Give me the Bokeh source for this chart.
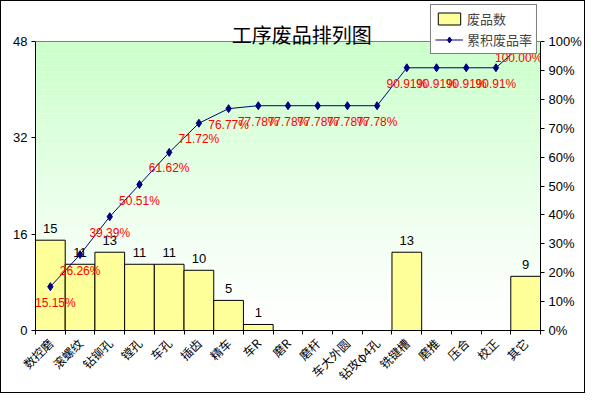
import numpy as np
from bokeh.plotting import figure
from bokeh.models import (Range1d, LinearAxis, FixedTicker, NumeralTickFormatter,
                          BoxAnnotation, Legend, LegendItem, Label, ColumnDataSource, Span)
from bokeh.core.properties import value
from bokeh.embed import file_html
from bokeh.resources import INLINE
import math

# ---- data ----
categories = ["数控磨", "滚螺纹", "钻铆孔", "镗孔", "车孔", "插齿", "精车", "车R", "磨R",
              "磨杆", "车大外圆", "钻攻φ4孔", "铣键槽", "磨推", "压合", "校正", "其它"]
counts = [15, 11, 13, 11, 11, 10, 5, 1, 0, 0, 0, 0, 13, 0, 0, 0, 9]
cum_pct = [15.15, 26.26, 39.39, 50.51, 61.62, 71.72, 76.77, 77.78, 77.78, 77.78,
           77.78, 77.78, 90.91, 90.91, 90.91, 90.91, 100.00]
left_ticks = [0, 16, 32, 48]
right_ticks = [0, 0.1, 0.2, 0.3, 0.4, 0.5, 0.6, 0.7, 0.8, 0.9, 1.0]
title_text = "工序废品排列图"
left_max = 48
right_max = 1.0

n = len(categories)
xs = list(np.arange(n) + 0.5)
bounds = list(np.arange(n + 1))

CJK = "Noto Sans CJK SC"
NUM = "Liberation Sans"

# layout: plot area 505 x 289 px, with 40 px of frame above it for title / legend
AREA_H = 289
TOP_PAD = 40
FRAME_H = AREA_H + TOP_PAD
ext = FRAME_H / AREA_H

p = figure(frame_width=505, frame_height=FRAME_H, output_backend="svg", toolbar_location=None,
           x_range=Range1d(0, n), y_range=Range1d(0, left_max * ext),
           min_border_left=34, min_border_right=44, min_border_top=0, min_border_bottom=56)
p.extra_y_ranges = {"pct": Range1d(0, right_max * ext)}
p.grid.visible = False
p.background_fill_color = "white"
p.border_fill_color = "white"
p.outline_line_color = None
p.styles = {"border": "1px solid black"}

# gradient background (light green at top fading to white)
steps = 48
for i in range(steps):
    t = (i + 0.5) / steps
    w = min(1.0, t * 1.05) ** 1.2
    r = int(round(255 - (255 - 0xCC) * w))
    col = "#%02x%02x%02x" % (r, 255, r)
    p.add_layout(BoxAnnotation(bottom=left_max * i / steps, top=left_max * (i + 1) / steps,
                               fill_color=col, fill_alpha=1.0, line_color=None,
                               level="underlay"))
p.add_layout(Span(location=left_max, dimension="width", line_color="#808080", line_width=1))

# keep the first / last percentage labels inside the plot edges
lab_dx = [0] * n
lab_dx[0] = 5
lab_dx[-1] = -7

src = ColumnDataSource(dict(x=xs, cat=categories, cnt=counts, cum=[c / 100 for c in cum_pct],
                            lab=["%.2f%%" % c for c in cum_pct], dx=lab_dx))

bars = p.vbar(x="x", top="cnt", width=1.0, source=src, fill_color="#FFFF99",
              line_color="black", line_width=1)

nz = [i for i, c in enumerate(counts) if c > 0]
p.text(x=[xs[i] for i in nz], y=[counts[i] for i in nz], text=[str(counts[i]) for i in nz],
       text_align="center", text_baseline="bottom", y_offset=-7,
       text_font=value(NUM), text_font_size="13px", text_color="black")

ln = p.line(x="x", y="cum", source=src, y_range_name="pct", line_color="#000080", line_width=1)
mk = p.scatter(x="x", y="cum", source=src, y_range_name="pct", marker="diamond", size=8,
               fill_color="#000080", line_color="#000080")
p.text(x="x", y="cum", text="lab", source=src, y_range_name="pct",
       text_align="center", text_baseline="top", x_offset="dx", y_offset=9,
       text_font=value(NUM), text_font_size="12px", text_color="#FF0000")

# axes
xa = p.xaxis[0]
xa.ticker = FixedTicker(ticks=xs, minor_ticks=bounds)
xa.major_label_overrides = {float(x): c for x, c in zip(xs, categories)}
xa.major_label_orientation = math.pi / 4
xa.major_tick_line_color = None
xa.minor_tick_in = 0
xa.minor_tick_out = 4
xa.minor_tick_line_color = "black"
xa.axis_line_color = "black"
xa.major_label_text_font = CJK
xa.major_label_text_font_size = "12px"
xa.major_label_text_color = "black"
xa.major_label_standoff = 4

ya = p.yaxis[0]
ya.ticker = FixedTicker(ticks=left_ticks)
ya.bounds = (0, left_max)
ya.minor_tick_line_color = None
ya.major_tick_in = 0
ya.major_tick_out = 4
ya.axis_line_color = "black"
ya.major_label_text_font = NUM
ya.major_label_text_font_size = "13px"
ya.major_label_text_color = "black"
ya.major_label_standoff = 4

ra = LinearAxis(y_range_name="pct", ticker=FixedTicker(ticks=right_ticks),
                formatter=NumeralTickFormatter(format="0%"), bounds=(0, right_max))
ra.minor_tick_line_color = None
ra.major_tick_in = 0
ra.major_tick_out = 4
ra.axis_line_color = "black"
ra.major_label_text_font = NUM
ra.major_label_text_font_size = "13px"
ra.major_label_text_color = "black"
ra.major_label_standoff = 4
p.add_layout(ra, "right")

# title
p.add_layout(Label(x=8.96, y=left_max, text=title_text, text_align="center",
                   text_baseline="middle", y_offset=7, text_font=CJK,
                   text_font_size="20px", text_color="black"))

# legend
legend = Legend(items=[LegendItem(label="废品数", renderers=[bars]),
                       LegendItem(label="累积废品率", renderers=[ln, mk])],
                location="top_right", orientation="vertical",
                label_text_font=CJK, label_text_font_size="13px",
                glyph_width=28, glyph_height=15, padding=4, spacing=2, margin=3,
                label_standoff=4, border_line_color="black", border_line_width=1,
                background_fill_color="white", background_fill_alpha=1.0)
p.add_layout(legend, "center")

open("out.html", "w").write(file_html(p, INLINE))
